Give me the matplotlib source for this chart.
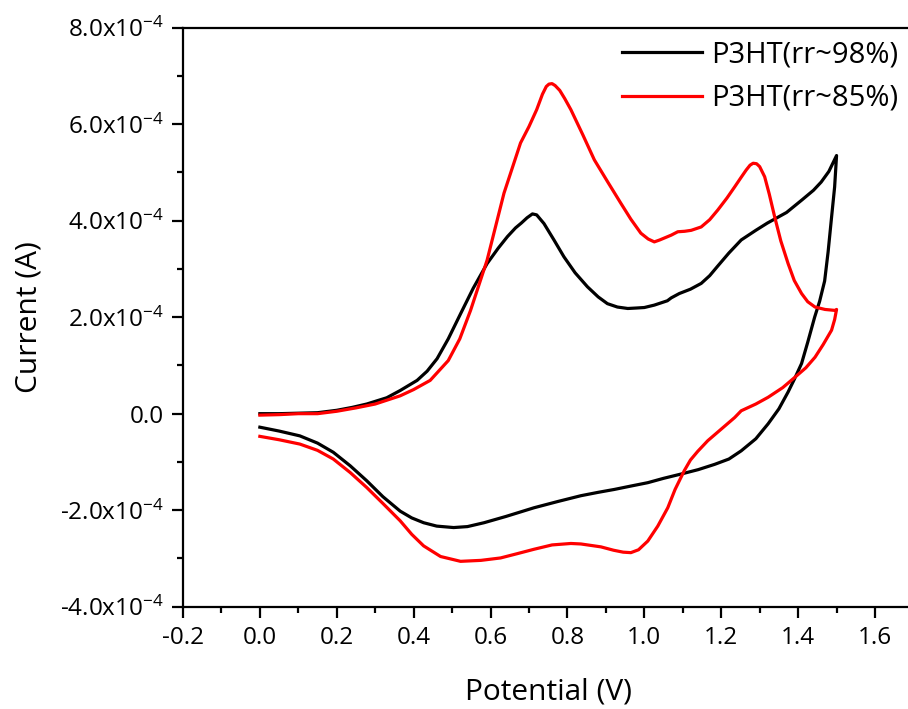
import matplotlib
matplotlib.use("Agg")
import matplotlib.pyplot as plt
from matplotlib.ticker import MultipleLocator, FuncFormatter

plt.rcParams['font.family'] = ['Open Sans', 'DejaVu Sans']
plt.rcParams['mathtext.default'] = 'regular'

# Potential (V) and current (x1e-4 A)
black_fwd_x = [0.0, 0.05, 0.10, 0.15, 0.20, 0.24, 0.278, 0.33, 0.365, 0.409, 0.435, 0.461, 0.49, 0.522, 0.555,
               0.591, 0.62, 0.644, 0.665, 0.68, 0.695, 0.709, 0.72, 0.739, 0.765, 0.791, 0.82, 0.852, 0.88,
               0.904, 0.93, 0.957, 0.98, 1.0, 1.026, 1.06, 1.07, 1.091, 1.12, 1.148, 1.17, 1.19, 1.22,
               1.252, 1.29, 1.32, 1.37, 1.41, 1.44, 1.46, 1.48, 1.5]
black_fwd_y = [0.0, 0.0, 0.01, 0.02, 0.07, 0.13, 0.2, 0.33, 0.48, 0.69, 0.88, 1.14, 1.55, 2.07, 2.6,
               3.11, 3.43, 3.67, 3.85, 3.95, 4.06, 4.14, 4.12, 3.94, 3.6, 3.25, 2.92, 2.63, 2.42,
               2.28, 2.21, 2.18, 2.19, 2.2, 2.25, 2.34, 2.4, 2.49, 2.58, 2.7, 2.86, 3.05, 3.33,
               3.6, 3.8, 3.95, 4.17, 4.43, 4.63, 4.8, 5.02, 5.35]
black_rev_x = [1.5, 1.495, 1.487, 1.478, 1.469, 1.456, 1.443, 1.425, 1.409, 1.39, 1.374, 1.35, 1.322, 1.29,
               1.252, 1.22, 1.183, 1.14, 1.096, 1.05, 1.009, 0.965, 0.922, 0.88, 0.835, 0.775, 0.713,
               0.64, 0.583, 0.54, 0.504, 0.46, 0.426, 0.395, 0.365, 0.32, 0.278, 0.235, 0.191, 0.15,
               0.104, 0.05, 0.0]
black_rev_y = [5.35, 4.7, 4.07, 3.35, 2.75, 2.33, 2.0, 1.48, 1.04, 0.71, 0.45, 0.1, -0.21, -0.52,
               -0.77, -0.94, -1.05, -1.16, -1.25, -1.34, -1.43, -1.50, -1.57, -1.63, -1.70, -1.82, -1.95,
               -2.13, -2.26, -2.34, -2.36, -2.33, -2.26, -2.16, -2.02, -1.72, -1.39, -1.08, -0.80, -0.61,
               -0.46, -0.36, -0.28]

red_fwd_x = [0.0, 0.05, 0.10, 0.15, 0.20, 0.25, 0.30, 0.365, 0.40, 0.443, 0.49, 0.52, 0.548, 0.591,
             0.635, 0.678, 0.70, 0.72, 0.735, 0.745, 0.752, 0.76, 0.768, 0.78, 0.793, 0.809, 0.84, 0.87,
             0.905, 0.939, 0.965, 0.991, 1.01, 1.026, 1.04, 1.052, 1.07, 1.087, 1.105, 1.122, 1.148,
             1.17, 1.191, 1.215, 1.235, 1.252, 1.265, 1.275, 1.283, 1.292, 1.30, 1.313, 1.325, 1.339,
             1.355, 1.374, 1.39, 1.409, 1.425, 1.444, 1.47, 1.496, 1.5]
red_fwd_y = [-0.03, -0.02, 0.0, 0.0, 0.05, 0.12, 0.2, 0.37, 0.5, 0.69, 1.1, 1.55, 2.14, 3.18,
             4.57, 5.61, 5.95, 6.3, 6.62, 6.78, 6.83, 6.84, 6.80, 6.7, 6.53, 6.3, 5.78, 5.26,
             4.8, 4.36, 4.03, 3.74, 3.62, 3.56, 3.6, 3.64, 3.7, 3.77, 3.78, 3.8, 3.87,
             4.02, 4.22, 4.47, 4.70, 4.9, 5.05, 5.15, 5.19, 5.18, 5.12, 4.91, 4.55, 4.08,
             3.58, 3.11, 2.76, 2.49, 2.32, 2.21, 2.16, 2.14, 2.16]
red_rev_x = [1.5, 1.495, 1.487, 1.465, 1.444, 1.42, 1.391, 1.36, 1.322, 1.29, 1.252, 1.235, 1.2, 1.165,
             1.139, 1.12, 1.104, 1.08, 1.061, 1.035, 1.009, 0.985, 0.965, 0.945, 0.92, 0.887, 0.835,
             0.809, 0.76, 0.713, 0.67, 0.626, 0.575, 0.522, 0.47, 0.426, 0.395, 0.365, 0.32, 0.278,
             0.235, 0.191, 0.15, 0.104, 0.05, 0.0]
red_rev_y = [2.16, 1.95, 1.73, 1.43, 1.17, 0.95, 0.75, 0.54, 0.34, 0.2, 0.06, -0.08, -0.32, -0.56,
             -0.78, -0.96, -1.18, -1.57, -1.95, -2.33, -2.64, -2.82, -2.88, -2.87, -2.83, -2.76, -2.70,
             -2.69, -2.72, -2.81, -2.90, -2.99, -3.04, -3.06, -2.96, -2.74, -2.50, -2.22, -1.86, -1.53,
             -1.22, -0.94, -0.76, -0.63, -0.54, -0.47]

labels = ['P3HT(rr~98%)', 'P3HT(rr~85%)']
colors = ['#000000', '#ff0000']

fig = plt.figure(figsize=(9.08, 7.09), dpi=100)
ax = fig.add_axes([0.2015, 0.1443, 0.8045, 0.8167])

scale = 1e-4
bx = black_fwd_x + black_rev_x
by = [v * scale for v in black_fwd_y + black_rev_y]
rx = red_fwd_x + red_rev_x
ry = [v * scale for v in red_fwd_y + red_rev_y]
ax.plot(bx, by, color=colors[0], lw=2.3, label=labels[0], solid_joinstyle='round')
ax.plot(rx, ry, color=colors[1], lw=2.3, label=labels[1], solid_joinstyle='round')

ax.set_xlim(-0.2, 1.7)
ax.set_ylim(-4e-4, 8e-4)
ax.xaxis.set_major_locator(MultipleLocator(0.2))
ax.xaxis.set_minor_locator(MultipleLocator(0.1))
ax.yaxis.set_major_locator(MultipleLocator(2e-4))
ax.yaxis.set_minor_locator(MultipleLocator(1e-4))


def xfmt(v, pos):
    return f'{v:.1f}'


def yfmt(v, pos):
    m = round(v / 1e-4, 1)
    if abs(m) < 1e-9:
        return '0.0'
    return f'{m:.1f}x10$^{{-4}}$'


ax.xaxis.set_major_formatter(FuncFormatter(xfmt))
ax.yaxis.set_major_formatter(FuncFormatter(yfmt))

for s in ['left', 'bottom', 'top']:
    ax.spines[s].set_linewidth(1.6)
ax.spines['right'].set_visible(False)
ax.tick_params(which='major', direction='out', length=8, width=1.6, labelsize=17.5, pad=6)
ax.tick_params(which='minor', direction='out', length=4.5, width=1.6)

ax.set_xlabel('Potential (V)', fontsize=21.5, labelpad=20)
ax.set_ylabel('Current (A)', fontsize=21.5, labelpad=12)

leg = ax.legend(loc='upper right', bbox_to_anchor=(1.008, 0.968), bbox_transform=fig.transFigure,
                frameon=False, fontsize=21, handlelength=2.75, handletextpad=0.3,
                labelspacing=0.5, borderaxespad=0.2)
for line in leg.get_lines():
    line.set_linewidth(2.3)

fig.savefig('out.png', dpi=100)
